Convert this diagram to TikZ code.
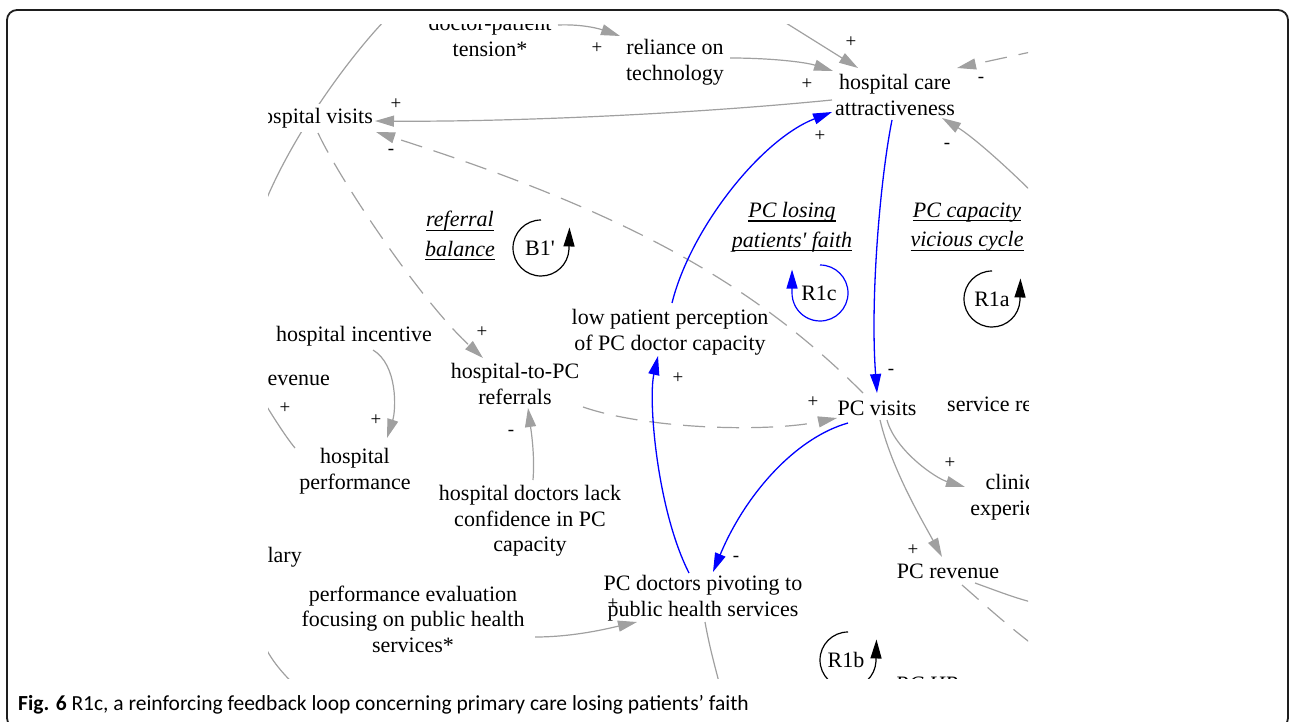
\documentclass[tikz,border=0pt]{standalone}
\usepackage{fontspec}
\setmainfont{Liberation Serif}
\newfontfamily\dsf{Liberation Serif}
\newfontfamily\capfont{Carlito}
\usetikzlibrary{arrows.meta,calc}
\definecolor{linegray}{HTML}{A0A0A0}
\definecolor{framecol}{HTML}{1E1E1E}
\newcommand{\myul}[1]{\setbox0\hbox{#1}\rlap{\rule[-4pt]{\wd0}{1.1pt}}\box0}
\begin{document}
\begin{tikzpicture}[x=1pt,y=-1pt,
 lbl/.style={align=center,font=\dsf\fontsize{22}{25.5}\selectfont,inner sep=2pt},
 loopname/.style={align=center,font=\dsf\itshape\fontsize{22}{29.5}\selectfont,inner sep=2pt},
 looplbl/.style={font=\dsf\fontsize{22}{25}\selectfont,inner sep=0pt},
 sgn/.style={font=\dsf\fontsize{19}{19}\selectfont,inner sep=0pt},
 gline/.style={draw=linegray,line width=1.2pt},
 garrow/.style={gline,-{Triangle[length=19pt,width=11pt]}},
 gdashed/.style={dash pattern=on 22pt off 12pt},
 barrow/.style={draw=blue,line width=1.3pt,-{Triangle[length=19pt,width=11pt]}},
 kloop/.style={draw=black,line width=1.2pt,-{Triangle[length=19pt,width=11pt]}},
 bloop/.style={draw=blue,line width=1.2pt,-{Triangle[length=19pt,width=11pt]}},
]
\useasboundingbox (0,0) rectangle (1292,722);
\draw[line width=1.8pt,draw=framecol,rounded corners=10pt] (7,10) rectangle (1288,728);

\begin{scope}
\clip (268,25) rectangle (1028,678);
% background curve behind "hospital visits"
\coordinate (tl1) at (390,15);
\coordinate (tl2) at (255,230);
\draw[gline] (tl1) .. controls (350,55) and (280,150) .. (tl2);

% variables
\node[lbl] (dpt) at (490,36) {doctor-patient\\tension*};
\node[lbl] (rel) at (675,62) {reliance on\\technology};
\node[lbl] (hca) at (895,95) {hospital care\\attractiveness};
\node[lbl,fill=white,inner sep=4pt] (hv) at (312,118) {hospital visits};
\node[lbl] (lpp) at (670,332) {low patient perception\\of PC doctor capacity};
\node[lbl] (hinc) at (354,336) {hospital incentive};
\node[lbl,anchor=east] (hrev) at (332,380) {revenue};
\node[lbl] (h2pc) at (515,384) {hospital-to-PC\\referrals};
\node[lbl] (pcv) at (877,408) {PC visits};
\node[lbl,anchor=west] (srv) at (945,404) {service revenue};
\node[lbl] (hperf) at (355,471) {hospital\\performance};
\node[lbl] (hdoc) at (530,521) {hospital doctors lack\\confidence in PC\\capacity};
\node[lbl,anchor=east] (sal) at (304,557) {salary};
\node[lbl] (pev) at (413,619) {performance evaluation\\focusing on public health\\services*};
\node[lbl] (pcd) at (703,598) {PC doctors pivoting to\\public health services};
\node[lbl] (clin) at (1018,497) {clinical\\experience};
\node[lbl] (pcrev) at (948,571) {PC revenue};

% loop names
\node[loopname] (refbal) at (460,236) {\myul{referral}\\\myul{balance}};
\node[loopname] (pclose) at (792,227) {\myul{PC losing}\\\myul{patients' faith}};
\node[loopname] (pccap) at (967,227) {\myul{PC capacity}\\\myul{vicious cycle}};
\node[loopname,anchor=west] (pchr) at (893,686) {\myul{PC HR}};

% loop markers
\node[looplbl] (b1) at (540,248) {B1'};
\draw[kloop] ($(b1)+(1,-28)$) arc[start angle=-90,end angle=-357,radius=28] -- ++(0.5,-22);
\node[looplbl] (r1c) at (819,293) {R1c};
\draw[bloop] ($(r1c)+(1,-28)$) arc[start angle=-90,end angle=183,radius=28] -- ++(0,-22);
\node[looplbl] (r1a) at (992,299) {R1a};
\draw[kloop] ($(r1a)+(0,-28)$) arc[start angle=-90,end angle=-357,radius=28] -- ++(0.5,-22);
\node[looplbl] (r1b) at (846,660) {R1b};
\draw[kloop] ($(r1b)+(2,-28)$) arc[start angle=-90,end angle=-357,radius=28] -- ++(0.5,-22);

% gray connectors
\draw[garrow] ($(dpt)+(68,-11)$) .. controls (583,24) and (600,29) .. ($(rel)+(-55,-26)$);
\coordinate (top1) at (778,18);
\draw[garrow] (top1) -- ($(hca)+(-37,-27)$);
\draw[garrow] ($(rel)+(55,-4)$) .. controls (770,58) and (805,62) .. ($(hca)+(-62,-24)$);
\coordinate (rt1) at (1040,50);
\draw[garrow,gdashed] (rt1) -- ($(hca)+(62,-27)$);
\draw[garrow] ($(hca)+(-63,5)$) .. controls (680,115) and (500,122) .. ($(hv)+(63,3)$);
\draw[garrow,gdashed] ($(pcv)+(-14,-15)$) .. controls (753,283) and (626,212) .. ($(hv)+(64,14)$);
\draw[garrow,gdashed] ($(hv)+(6,15)$) .. controls (340,180) and (420,300) .. ($(h2pc)+(-32,-26)$);
\draw[garrow,gdashed] ($(h2pc)+(68,23)$) .. controls (650,430) and (770,432) .. ($(pcv)+(-40,10)$);
\draw[garrow] ($(hdoc)+(3,-41)$) .. controls (535,455) and (531,430) .. ($(h2pc)+(13,24)$);
\draw[garrow] ($(hinc)+(19,14)$) .. controls (398,365) and (396,410) .. ($(hperf)+(32,-33)$);
\coordinate (lft1) at (258,392);
\draw[gline] ($(hperf)+(-60,-23)$) .. controls (285,436) and (270,412) .. (lft1);
\coordinate (bl1) at (262,640);
\coordinate (bl2) at (298,688);
\draw[gline] (bl1) .. controls (270,660) and (285,676) .. (bl2);
\draw[garrow] ($(pev)+(122,18)$) .. controls (575,637) and (610,628) .. ($(pcd)+(-66,24)$);
\coordinate (pcdown) at (721,690);
\draw[gline] ($(pcd)+(2,24)$) .. controls (710,650) and (716,670) .. (pcdown);
\coordinate (rb1) at (1040,200);
\draw[garrow] (rb1) .. controls (1000,160) and (970,135) .. ($(hca)+(47,23)$);
\draw[garrow] ($(pcv)+(10,12)$) .. controls (895,450) and (935,478) .. ($(clin)+(-53,-10)$);
\draw[garrow] ($(pcv)+(3,12)$) .. controls (892,470) and (922,520) .. ($(pcrev)+(-6,-14)$);
\coordinate (r19) at (1040,604);
\draw[gline] ($(pcrev)+(27,12)$) .. controls (1000,592) and (1020,600) .. (r19);
\coordinate (r20) at (1040,650);
\draw[gline,gdashed] ($(pcrev)+(14,14)$) .. controls (985,605) and (1010,628) .. (r20);

% blue loop R1c
\draw[barrow] ($(lpp)+(2,-29)$) .. controls (690,230) and (760,140) .. ($(hca)+(-63,17)$);
\draw[barrow] ($(hca)+(-3,25)$) .. controls (880,180) and (870,300) .. ($(pcv)+(0,-15)$);
\draw[barrow] ($(pcv)+(-29,15)$) .. controls (795,438) and (745,495) .. ($(pcd)+(10,-26)$);
\draw[barrow] ($(pcd)+(-14,-25)$) .. controls (657,510) and (648,400) .. ($(lpp)+(-12,24)$);

% polarity signs
\node[sgn] (s1) at (597,48) {+};
\node[sgn] (s2) at (851,42) {+};
\node[sgn] (s3) at (807,84) {+};
\node[sgn] (s4) at (981,80) {-};
\node[sgn] (s5) at (947,146) {-};
\node[sgn] (s6) at (820,136) {+};
\node[sgn] (s7) at (396,104) {+};
\node[sgn] (s8) at (391,152) {-};
\node[sgn] (s9) at (482,332) {+};
\node[sgn] (s10) at (285,408) {+};
\node[sgn] (s11) at (376,420) {+};
\node[sgn] (s12) at (511,433) {-};
\node[sgn] (s13) at (813,402) {+};
\node[sgn] (s14) at (891,372) {-};
\node[sgn] (s15) at (678,378) {+};
\node[sgn] (s16) at (613,604) {+};
\node[sgn] (s17) at (736,559) {-};
\node[sgn] (s18) at (950,463) {+};
\node[sgn] (s19) at (913,550) {+};
\end{scope}

\node[anchor=base west,inner sep=0pt,font=\capfont\fontsize{21.5}{21.5}\selectfont] (cap) at (18,710) {\textbf{Fig. 6} R1c, a reinforcing feedback loop concerning primary care losing patients’ faith};
\end{tikzpicture}
\end{document}
